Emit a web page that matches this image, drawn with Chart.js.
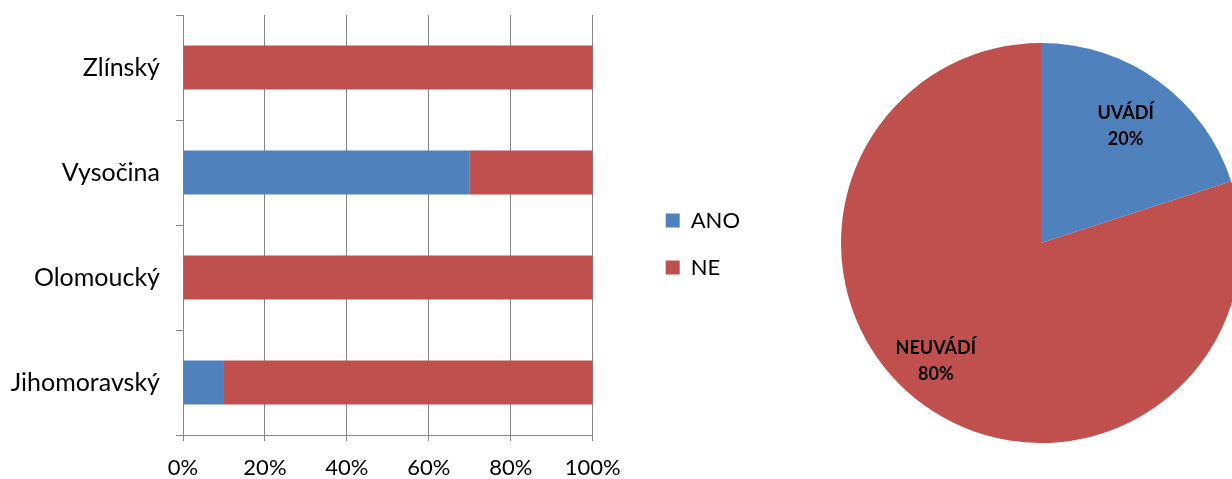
<!DOCTYPE html>
<html>
<head>
<meta charset="utf-8">
<script src="https://cdn.jsdelivr.net/npm/chart.js@4.4.0/dist/chart.umd.min.js"></script>
<style>
    html, body { margin: 0; padding: 0; background: #fff; overflow: hidden; }
    body { width: 1232px; height: 479px; position: relative; }
    #barWrap { position: absolute; left: 0; top: 0; width: 780px; height: 479px; }
    #pieWrap { position: absolute; left: 841px; top: 43px; width: 400px; height: 400px; }
</style>
</head>
<body>
<div id="barWrap"><canvas id="regionChart" width="780" height="479"></canvas></div>
<div id="pieWrap"><canvas id="shareChart" width="400" height="400"></canvas></div>

<script>
// Regions (top to bottom as drawn)
const regions = ['Zlínský', 'Vysočina', 'Olomoucký', 'Jihomoravský'];
const anoValues = [0, 70, 0, 10];
const neValues = [100, 30, 100, 90];
const xTicks = [0, 20, 40, 60, 80, 100];

// Pie data
const pieLabels = ['UVÁDÍ', 'NEUVÁDÍ'];
const pieValues = [20, 80];

const BLUE = '#4F81BD';
const RED = '#C0504D';
const AXIS = '#868686';
const FONT = 'Lato, "Liberation Sans", sans-serif';

/**
 * Stacked 100% bar chart by region
 */
function initializeRegionChart() {
    const ctx = document.getElementById('regionChart');
    if (!ctx) return;

    new Chart(ctx, {
        type: 'bar',
        data: {
            labels: regions,
            datasets: [
                { label: 'ANO', data: anoValues, backgroundColor: BLUE, barPercentage: 0.42, categoryPercentage: 1 },
                { label: 'NE', data: neValues, backgroundColor: RED, barPercentage: 0.42, categoryPercentage: 1 }
            ]
        },
        options: {
            responsive: false,
            animation: false,
            indexAxis: 'y',
            layout: { padding: { top: 15, right: 30, bottom: 0, left: 0 } },
            plugins: {
                tooltip: { enabled: false },
                legend: {
                    position: 'right',
                    // empty title with negative padding lifts the items a little
                    title: { display: true, text: ' ', font: { size: 1 }, padding: { top: -4, bottom: -3 } },
                    labels: {
                        boxWidth: 14,
                        boxHeight: 14,
                        padding: 25,
                        color: '#000',
                        font: { size: 22, family: FONT }
                    }
                }
            },
            scales: {
                x: {
                    stacked: true,
                    min: 0,
                    max: 100,
                    afterBuildTicks: axis => { axis.ticks = xTicks.map(v => ({ value: v })); },
                    afterFit: axis => { axis.height = 44; },
                    ticks: {
                        color: '#000',
                        padding: 14,
                        font: { size: 22, family: FONT },
                        callback: v => v + '%'
                    },
                    grid: { color: AXIS, tickLength: 6 },
                    border: { color: AXIS }
                },
                y: {
                    stacked: true,
                    afterFit: axis => {
                        axis.width = 183;
                        axis.paddingTop = 0;
                        axis.paddingBottom = 0;
                    },
                    ticks: {
                        color: '#000',
                        padding: 16,
                        font: { size: 25, family: FONT }
                    },
                    grid: { drawOnChartArea: false, color: AXIS, tickLength: 7, offset: true },
                    border: { color: AXIS }
                },
                // empty spacer between the plot and the legend
                gap: {
                    type: 'category',
                    axis: 'y',
                    position: 'right',
                    grid: { display: false },
                    border: { display: false },
                    ticks: { display: false },
                    afterFit: axis => { axis.width = 48; }
                }
            }
        }
    });
}

// Draws the category name and share inside each slice
const sliceLabels = {
    id: 'sliceLabels',
    afterDatasetsDraw(chart) {
        const c = chart.ctx;
        const meta = chart.getDatasetMeta(0);
        const total = pieValues.reduce((a, b) => a + b, 0);
        const spots = [{ dist: 0.72, turn: 0 }, { dist: 0.79, turn: 0.1 }];
        c.save();
        c.fillStyle = '#000';
        c.textAlign = 'center';
        c.textBaseline = 'middle';
        c.font = 'bold 18px ' + FONT;
        meta.data.forEach((arc, i) => {
            const mid = (arc.startAngle + arc.endAngle) / 2 + spots[i].turn;
            const r = arc.outerRadius * spots[i].dist;
            const x = arc.x + Math.cos(mid) * r;
            const y = arc.y + Math.sin(mid) * r;
            c.fillText(pieLabels[i], x, y - 13);
            c.fillText(Math.round(pieValues[i] / total * 100) + '%', x, y + 13);
        });
        c.restore();
    }
};

/**
 * Pie chart of the overall share
 */
function initializeShareChart() {
    const ctx = document.getElementById('shareChart');
    if (!ctx) return;

    new Chart(ctx, {
        type: 'pie',
        data: {
            labels: pieLabels,
            datasets: [{
                data: pieValues,
                backgroundColor: [BLUE, RED],
                borderWidth: 0
            }]
        },
        options: {
            responsive: false,
            animation: false,
            layout: { padding: 0 },
            plugins: {
                legend: { display: false },
                tooltip: { enabled: false }
            }
        },
        plugins: [sliceLabels]
    });
}

initializeRegionChart();
initializeShareChart();
</script>
</body>
</html>
